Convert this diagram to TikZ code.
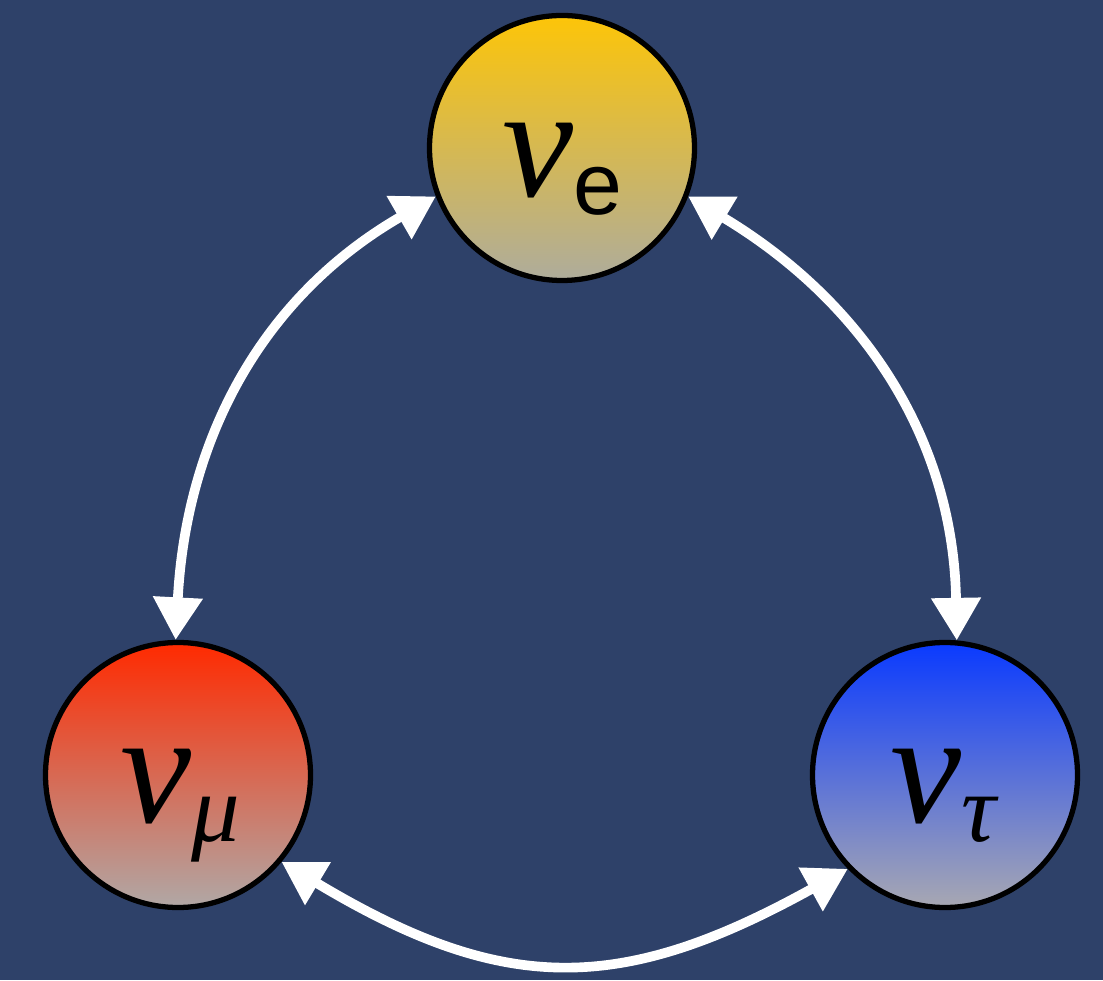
\documentclass[tikz,border=0pt]{standalone}
\usepackage{fontspec}
\setmainfont{Liberation Serif}
\newfontfamily\sanslbl{Liberation Sans}
\usetikzlibrary{arrows.meta}
\definecolor{bgblue}{HTML}{2E4169}
\definecolor{nuegold}{HTML}{FDC508}
\definecolor{nuegray}{HTML}{AEAC9C}
\definecolor{numured}{HTML}{FF2A00}
\definecolor{numugray}{HTML}{B0A8A6}
\definecolor{nutaublue}{HTML}{0A3AFF}
\definecolor{nutaugray}{HTML}{A8A8B2}
\newcommand{\nusym}{{\fontsize{91}{91}\selectfont\itshape ν}}
\newcommand{\flavsub}[1]{\raisebox{-11pt}{\fontsize{55}{55}\selectfont #1}}

\begin{document}
\begin{tikzpicture}[
	flavour/.style={circle, draw=black, line width=3pt, minimum size=5.3cm, inner sep=0pt},
	osc/.style={draw=white, line width=5.5pt, {Triangle[length=0.85cm,width=0.95cm]}-{Triangle[length=0.85cm,width=0.95cm]}},
	lbl/.style={anchor=base, inner sep=0pt}]
	% Background:
	\fill[bgblue] (0, 0) rectangle (22.06, 19.6);
	\useasboundingbox (0, 0) rectangle (22.06, 19.6);
	% Flavour states:
	\node[flavour, top color=nuegold, bottom color=nuegray] (ve) at (11.24, 16.64) {};
	\node[flavour, top color=numured, bottom color=numugray] (vmu) at (3.56, 4.1) {};
	\node[flavour, top color=nutaublue, bottom color=nutaugray] (vtau) at (18.9, 4.1) {};
	\node[lbl] (vel) at (11.24, 15.66) {\nusym\raisebox{-10pt}{\fontsize{50}{50}\selectfont\sanslbl e}};
	\node[lbl] (vmul) at (3.6, 3.16) {\nusym\flavsub{\itshape μ}};
	\node[lbl] (vtaul) at (18.86, 3.16) {\nusym\flavsub{\itshape τ}};
	% Oscillations:
	\draw[osc] (ve.201) to[out=210, in=87] (vmu.91);
	\draw[osc] (ve.339) to[out=-31, in=91] (vtau.85);
	\draw[osc] (vmu.-40) to[out=-31, in=209, looseness=1.17] (vtau.224);
\end{tikzpicture}
\end{document}
